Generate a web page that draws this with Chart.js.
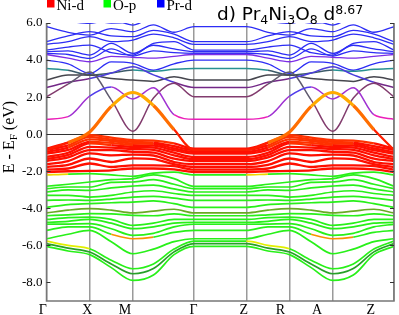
<!DOCTYPE html>
<html>
<head>
<meta charset="utf-8">
<script src="https://cdn.jsdelivr.net/npm/chart.js@4/dist/chart.umd.min.js"></script>
<style>
  html, body { margin: 0; padding: 0; background: #fff; }
  #wrap { width: 399px; height: 315px; }
</style>
</head>
<body>
<div id="wrap"><canvas id="bandChart"></canvas></div>
<script>
// sample points along G-X-M-G (path length units); Z-R-A-Z repeats them shifted by zShift
const kPath = [0, 21.5, 43, 64.5, 86, 106.5, 127, 147];
const zShift = 199;
const symPoints = [0, 43, 86, 147, 199, 242, 285, 346];
const symLabels = ['Γ', 'X', 'M', 'Γ', 'Z', 'R', 'A', 'Z'];
const symLabelPos = [-3.8, 40.6, 78.2, 146.4, 196.5, 233, 269.5, 323];
const yTicks = [-8, -6, -4, -2, 0, 2, 4, 6];
const legendNames = ['Ni-d', 'O-p', 'Pr-d'];

// band energies (eV) at kPath
const prBands = [
  [0.81, 0.95, 2.05, 2.55, 1.90, 2.50, 1.05, 0.81],
  [2.02, 2.70, 3.35, 1.85, 0.16, 1.95, 2.75, 2.02],
  [2.52, 2.80, 3.00, 3.30, 3.64, 3.20, 2.80, 2.52],
  [2.92, 3.20, 3.19, 3.00, 2.92, 2.85, 3.10, 2.92],
  [3.55, 3.45, 3.19, 3.30, 3.46, 3.40, 3.50, 3.55],
  [4.00, 3.80, 3.28, 3.90, 3.82, 3.45, 3.80, 4.00],
  [4.30, 4.10, 3.91, 4.20, 4.15, 4.10, 4.20, 4.30],
  [4.36, 4.30, 4.09, 4.60, 4.22, 4.50, 4.40, 4.36],
  [4.45, 4.50, 4.27, 4.90, 4.36, 4.80, 4.60, 4.45],
  [4.54, 4.70, 4.81, 4.40, 4.27, 4.90, 5.00, 4.54],
  [4.85, 5.00, 5.26, 5.00, 5.08, 5.40, 5.20, 4.85],
  [4.99, 5.30, 5.53, 5.30, 5.26, 5.60, 5.40, 4.99],
  [5.80, 5.50, 5.35, 5.70, 5.53, 5.90, 5.50, 5.80],
  [6.30, 6.10, 5.98, 6.20, 5.89, 6.30, 6.20, 6.30],
  [6.60, 6.40, 6.20, 6.00, 6.07, 6.40, 6.50, 6.60]
];

const orangeBand = [-0.85, -0.45, 0.12, 1.50, 2.25, 1.55, 0.25, -0.85];

const niBands = [
  [-0.78, -0.45, -0.05, -0.18, -0.32, -0.35, -0.50, -0.78],
  [-0.85, -0.60, -0.14, -0.29, -0.41, -0.45, -0.65, -0.85],
  [-0.96, -0.72, -0.28, -0.36, -0.50, -0.52, -0.77, -0.96],
  [-1.05, -0.85, -0.41, -0.47, -0.59, -0.62, -0.86, -1.05],
  [-1.23, -1.00, -0.50, -0.59, -0.68, -0.72, -1.00, -1.23],
  [-1.35, -1.12, -0.68, -0.72, -0.80, -0.85, -1.14, -1.35],
  [-1.45, -1.25, -0.86, -0.86, -0.95, -1.00, -1.32, -1.45],
  [-1.62, -1.45, -1.04, -1.14, -1.10, -1.15, -1.50, -1.62],
  [-1.77, -1.65, -1.31, -1.50, -1.30, -1.35, -1.62, -1.77],
  [-1.91, -1.85, -1.58, -1.77, -1.68, -1.68, -1.72, -1.91],
  [-2.04, -2.00, -1.98, -1.95, -1.85, -1.85, -1.90, -2.04]
];

const oBands = [
  [-2.20, -2.15, -2.13, -2.20, -2.27, -2.10, -2.05, -2.20],
  [-2.81, -2.70, -2.58, -2.45, -2.40, -2.20, -2.40, -2.81],
  [-2.94, -2.85, -2.85, -2.60, -2.58, -2.45, -2.70, -2.94],
  [-3.12, -3.00, -3.03, -2.90, -2.80, -2.75, -2.95, -3.12],
  [-3.30, -3.30, -3.39, -3.30, -3.12, -3.05, -3.20, -3.30],
  [-3.57, -3.55, -3.57, -3.50, -3.39, -3.35, -3.45, -3.57],
  [-3.95, -3.80, -3.75, -3.70, -3.66, -3.60, -3.75, -3.95],
  [-4.25, -4.10, -4.02, -4.10, -4.25, -4.15, -4.05, -4.25],
  [-4.40, -4.35, -4.29, -4.30, -4.38, -4.40, -4.30, -4.40],
  [-4.60, -4.50, -4.47, -4.60, -4.92, -4.80, -4.60, -4.60],
  [-4.76, -4.70, -4.60, -4.80, -5.10, -5.00, -4.80, -4.76],
  [-4.86, -4.85, -4.83, -5.10, -5.46, -5.35, -5.00, -4.86],
  [-5.19, -5.00, -5.00, -5.40, -5.64, -5.55, -5.30, -5.19],
  [-5.64, -5.40, -5.19, -5.80, -6.45, -6.20, -5.80, -5.64],
  [-5.77, -6.00, -6.18, -6.80, -7.26, -7.00, -6.20, -5.77],
  [-5.90, -6.15, -6.36, -7.00, -7.53, -7.25, -6.35, -5.90],
  [-6.05, -6.30, -6.50, -7.20, -7.89, -7.60, -6.50, -6.05]
];

// colour roles (style only)
const prRoles = ['magenta', 'mauve', 'plum', 'dark', 'teal', 'blue', 'violet', 'blue', 'blue', 'blue', 'blue', 'blue', 'blue', 'blue', 'blue'];
const oRoles = { 0: 'yellowG', 7: 'olive', 12: 'orangeM', 14: 'yellowX', 15: 'darkgreen' };

function bandPoints(vals) {
  const pts = vals.map((v, i) => ({ x: kPath[i], y: v }));
  vals.forEach((v, i) => pts.push({ x: kPath[i] + zShift, y: v }));
  return pts;
}

function tone(role, ctx) {
  const e = (ctx.p0.parsed.y + ctx.p1.parsed.y) / 2;
  const kx = ((ctx.p0.parsed.x + ctx.p1.parsed.x) / 2) % zShift;
  switch (role) {
    case 'magenta': return e < 1.2 ? 'rgb(235,30,185)' : (e < 2.3 ? 'rgb(160,50,210)' : 'rgb(80,60,235)');
    case 'mauve': return e < 2.6 ? 'rgb(130,60,110)' : 'rgb(95,90,110)';
    case 'plum': return e < 3.0 ? 'rgb(115,40,135)' : 'rgb(75,60,220)';
    case 'dark': return e < 3.3 ? 'rgb(70,70,78)' : 'rgb(60,60,230)';
    case 'teal': return e > 3.4 ? 'rgb(40,145,145)' : 'rgb(60,90,105)';
    case 'violet': return 'rgb(125,45,230)';
    case 'blue': return 'rgb(45,45,245)';
    case 'ni': return e > -0.55 ? 'rgb(255,50,0)' : 'rgb(255,15,0)';
    case 'orange': return e > 1.7 ? 'rgb(255,170,0)' : (e > -0.2 ? 'rgb(255,110,0)' : 'rgb(255,30,0)');
    case 'yellowG': return kx < 25 ? 'rgb(235,215,0)' : 'rgb(40,240,25)';
    case 'olive': return 'rgb(105,170,35)';
    case 'orangeM': return Math.abs(kx - 86) < 22 ? 'rgb(250,145,0)' : 'rgb(40,240,25)';
    case 'yellowX': return kx > 8 && kx < 48 ? 'rgb(225,240,0)' : 'rgb(40,240,25)';
    case 'darkgreen': return 'rgb(40,160,40)';
    default: return 'rgb(40,240,25)';
  }
}

function makeSet(vals, role, width) {
  return {
    data: bandPoints(vals),
    borderWidth: width,
    borderColor: 'rgb(40,240,25)',
    segment: {
      borderColor: ctx => tone(role, ctx),
      borderWidth: ctx => (role === 'orange' && (ctx.p0.parsed.y + ctx.p1.parsed.y) / 2 < -0.2 ? 2.2 : width)
    },
    pointRadius: 0,
    cubicInterpolationMode: 'monotone',
    fill: false
  };
}

// first dataset is drawn on top
const datasets = [];
datasets.push(makeSet(orangeBand, 'orange', 3.2));
niBands.forEach(b => datasets.push(makeSet(b, 'ni', 2.3)));
oBands.forEach((b, i) => datasets.push(makeSet(b, oRoles[i] || 'green', 1.7)));
prBands.forEach((b, i) => datasets.push(makeSet(b, prRoles[i], i < 5 ? 1.5 : 1.3)));

const serif = '"Liberation Serif", "DejaVu Serif", serif';

const decor = {
  id: 'decor',
  afterDraw(chart) {
    const { ctx, chartArea: a, scales } = chart;
    ctx.save();
    // frame
    ctx.strokeStyle = '#777';
    ctx.lineWidth = 1.5;
    ctx.beginPath();
    ctx.moveTo(a.left, a.top); ctx.lineTo(a.left, a.bottom);
    ctx.lineTo(a.right, a.bottom); ctx.lineTo(a.right, a.top);
    ctx.stroke();
    // inner tick marks
    ctx.strokeStyle = '#333';
    ctx.lineWidth = 1;
    yTicks.forEach(v => {
      const y = Math.round(scales.y.getPixelForValue(v)) + 0.5;
      ctx.beginPath();
      ctx.moveTo(a.left, y); ctx.lineTo(a.left + 4, y);
      ctx.moveTo(a.right - 4, y); ctx.lineTo(a.right, y);
      ctx.stroke();
    });
    // legend
    const boxCols = ['rgb(255,0,0)', 'rgb(0,255,0)', 'rgb(0,0,255)'];
    const boxX = [47, 103.5, 157];
    ctx.font = '15px ' + serif;
    ctx.textBaseline = 'alphabetic';
    ctx.textAlign = 'left';
    legendNames.forEach((n, i) => {
      ctx.fillStyle = boxCols[i];
      ctx.fillRect(boxX[i], 0, 7.5, 7.5);
      ctx.fillStyle = '#000';
      ctx.fillText(n, boxX[i] + 9.5, 9.5);
    });
    // title
    const parts = [['d) Pr', 0], ['4', 1], ['Ni', 0], ['3', 1], ['O', 0], ['8', 1], [' d', 0], ['8.67', 2]];
    let x = 217;
    parts.forEach(([t, kind]) => {
      ctx.font = (kind === 0 ? '18.5px' : '12.5px') + ' "DejaVu Sans", sans-serif';
      const y = kind === 0 ? 19.5 : (kind === 1 ? 24 : 13.5);
      ctx.fillText(t, x, y);
      x += ctx.measureText(t).width;
    });
    // y axis title
    ctx.translate(14, 137);
    ctx.rotate(-Math.PI / 2);
    const yParts = [['E - E', 0], ['F', 1], [' (eV)', 0]];
    let w = 0;
    yParts.forEach(([t, kind]) => {
      ctx.font = (kind === 0 ? '16px ' : '11px ') + serif;
      w += ctx.measureText(t).width;
    });
    let tx = -w / 2;
    yParts.forEach(([t, kind]) => {
      ctx.font = (kind === 0 ? '16px ' : '11px ') + serif;
      ctx.fillText(t, tx, kind === 0 ? 0 : 3);
      tx += ctx.measureText(t).width;
    });
    ctx.restore();
  }
};

const config = {
  type: 'line',
  data: { datasets: datasets },
  options: {
    responsive: true,
    maintainAspectRatio: false,
    animation: false,
    events: [],
    layout: { padding: { top: 23, right: 5, bottom: 0, left: 0 } },
    plugins: { legend: { display: false }, tooltip: { enabled: false } },
    scales: {
      x: {
        type: 'linear',
        min: 0,
        max: 346,
        position: 'bottom',
        border: { display: false },
        grid: { color: '#9a9a9a', lineWidth: 1.5, drawTicks: false },
        ticks: { display: false },
        afterBuildTicks: s => { s.ticks = symPoints.map(v => ({ value: v })); },
        afterFit: s => { s.height = 0; }
      },
      x2: {
        type: 'linear',
        min: 0,
        max: 346,
        position: 'bottom',
        border: { display: false },
        grid: { display: false, drawTicks: false },
        ticks: {
          autoSkip: false,
          maxRotation: 0,
          padding: 1,
          color: '#000',
          font: { family: serif, size: 14 },
          callback: (v, i) => symLabels[i]
        },
        afterBuildTicks: s => { s.ticks = symLabelPos.map(v => ({ value: v })); },
        afterFit: s => { s.height = 14; }
      },
      y: {
        type: 'linear',
        min: -9,
        max: 6,
        border: { display: false },
        grid: {
          drawTicks: false,
          lineWidth: 1,
          color: c => (c.tick && c.tick.value === 0 ? '#333' : 'rgba(0,0,0,0)')
        },
        ticks: {
          color: '#000',
          padding: 4,
          font: { family: serif, size: 13 },
          callback: v => v.toFixed(1)
        },
        afterBuildTicks: s => { s.ticks = yTicks.map(v => ({ value: v })); },
        afterFit: s => { s.width = 46.5; }
      }
    }
  },
  plugins: [decor]
};

window.bandChart = new Chart(document.getElementById('bandChart'), config);
</script>
</body>
</html>
